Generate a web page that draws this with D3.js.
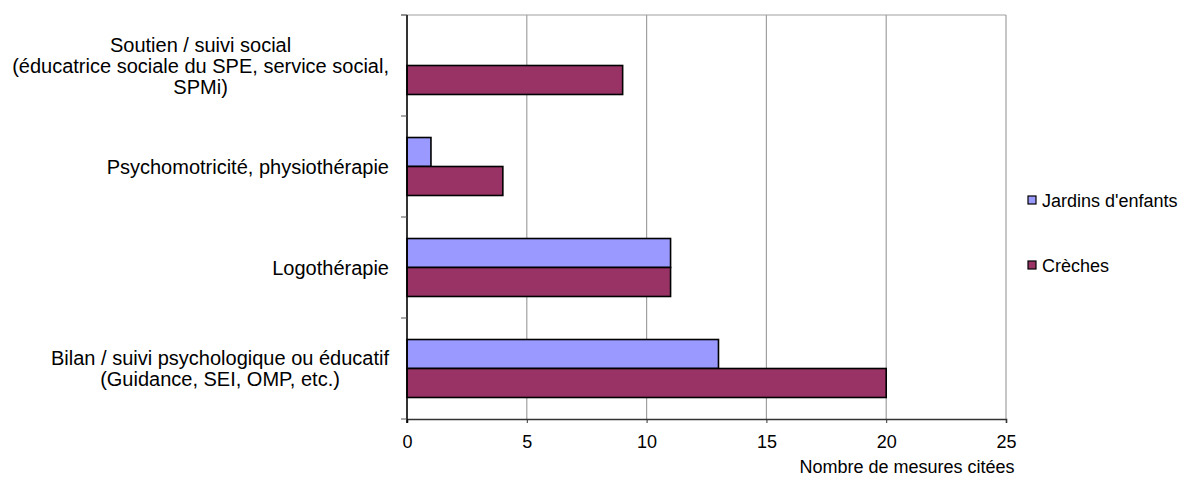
<!DOCTYPE html>
<html><head><meta charset="utf-8">
<script src="https://cdn.jsdelivr.net/npm/d3@7"></script>
<style>
html,body{margin:0;padding:0;background:#fff;}
text{font-family:"Liberation Sans",Arial,sans-serif;fill:#000;}
</style></head>
<body><svg id="chart" width="1180" height="482"></svg>
<script>
const categories = [
  ["Soutien / suivi social", "(éducatrice sociale du SPE, service social,", "SPMi)"],
  ["Psychomotricité, physiothérapie"],
  ["Logothérapie"],
  ["Bilan / suivi psychologique ou éducatif", "(Guidance, SEI, OMP, etc.)"]
];
const seriesNames = ["Jardins d'enfants", "Crèches"];
const jardins = [0, 1, 11, 13];
const creches = [9, 4, 11, 20];
const xTicks = [0, 5, 10, 15, 20, 25];
const axisTitle = "Nombre de mesures citées";
const colors = ["#9999FF", "#993366"];

const svg = d3.select("#chart");
const m = {left: 407, right: 1006, top: 15, bottom: 419};
const x = d3.scaleLinear().domain([0, 25]).range([m.left, m.right]);
const keys = categories.map((c, i) => i);
const y = d3.scaleBand().domain(keys).range([m.top, m.bottom]).paddingInner(0.426).paddingOuter(0.213);
const ySub = d3.scaleBand().domain([0, 1]).range([0, y.bandwidth()]);
const step = y.step();

// gridlines
svg.append("g").selectAll("line").data(xTicks.slice(1)).join("line")
  .attr("x1", d => x(d)).attr("x2", d => x(d))
  .attr("y1", m.top).attr("y2", m.bottom)
  .attr("stroke", "#a0a0a0").attr("stroke-width", 1.2);
// top border
svg.append("line").attr("x1", m.left - 6).attr("x2", m.right).attr("y1", m.top).attr("y2", m.top)
  .attr("stroke", "#a0a0a0").attr("stroke-width", 1.2);

// bars
const data = [jardins, creches];
const g = svg.append("g");
data.forEach((vals, s) => {
  g.selectAll(null).data(vals.map((v, i) => ({v, i})).filter(d => d.v > 0)).join("rect")
    .attr("x", x(0)).attr("y", d => y(d.i) + ySub(s))
    .attr("width", d => x(d.v) - x(0)).attr("height", ySub.bandwidth())
    .attr("fill", colors[s]).attr("stroke", "#000").attr("stroke-width", 1.6);
});

// x axis
const xAxis = svg.append("g").attr("transform", `translate(0,${m.bottom})`)
  .call(d3.axisBottom(x).tickValues(xTicks).tickSize(4).tickPadding(12));
xAxis.select(".domain").attr("stroke", "#333").attr("stroke-width", 1.6);
xAxis.selectAll(".tick line").attr("stroke", "#333");
xAxis.selectAll("text").style("font-size", "18px").attr("font-family", null);

// y axis line and ticks
svg.append("line").attr("x1", m.left).attr("x2", m.left).attr("y1", m.top).attr("y2", m.bottom + 4)
  .attr("stroke", "#000").attr("stroke-width", 1.6);
const yTickPos = d3.range(categories.length + 1).map(i => m.top + i * step);
svg.append("g").selectAll("line").data(yTickPos).join("line")
  .attr("x1", m.left - 6).attr("x2", m.left).attr("y1", d => d).attr("y2", d => d)
  .attr("stroke", "#555").attr("stroke-width", 1);

// category labels
const fs = 20, lh = 21;
const labG = svg.append("g");
categories.forEach((lines, i) => {
  const cy = m.top + (i + 0.5) * step;
  const t = labG.append("text").style("font-size", fs + "px").attr("text-anchor", "middle");
  const spans = lines.map(l => t.append("tspan").text(l));
  const w = d3.max(spans.map(s => s.node().getComputedTextLength()));
  const cx = 389 - w / 2;
  spans.forEach((s, j) => s.attr("x", cx).attr("y", cy + (j - (lines.length - 1) / 2) * lh + fs * 0.35));
});

// axis title
svg.append("text").attr("x", 907).attr("y", 473).attr("text-anchor", "middle")
  .style("font-size", "18px").text(axisTitle);

// legend
const legY = [200, 265];
seriesNames.forEach((n, s) => {
  svg.append("rect").attr("x", 1028).attr("y", legY[s] - 4).attr("width", 8).attr("height", 8)
    .attr("fill", colors[s]).attr("stroke", "#000").attr("stroke-width", 1.2);
  svg.append("text").attr("x", 1042).attr("y", legY[s] + 6.5).style("font-size", "18px").text(n);
});
</script></body></html>
